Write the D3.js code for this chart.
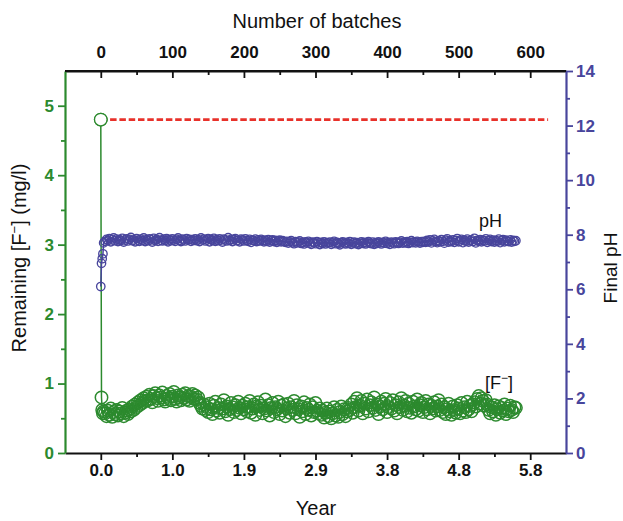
<!DOCTYPE html>
<html>
<head>
<meta charset="utf-8">
<script src="https://cdn.jsdelivr.net/npm/d3@7/dist/d3.min.js"></script>
<style>
  html, body { margin: 0; padding: 0; background: #fff; }
  svg { display: block; }
  text { font-family: "Liberation Sans", Arial, Helvetica, sans-serif; }
</style>
</head>
<body>
<svg id="chart" width="623" height="521"></svg>
<script>
// Top axis: batch numbers; bottom axis: elapsed years at the same batch positions
const batchTicks = [0, 100, 200, 300, 400, 500, 600];
const yearLabels = ["0.0", "1.0", "1.9", "2.9", "3.8", "4.8", "5.8"];
const batchMinorTicks = [50, 150, 250, 350, 450, 550];

const fTicks = [0, 1, 2, 3, 4, 5];
const fMinorTicks = [0.5, 1.5, 2.5, 3.5, 4.5];
const phTicks = [0, 2, 4, 6, 8, 10, 12, 14];
const phMinorTicks = [1, 3, 5, 7, 9, 11, 13];

// Feed fluoride concentration (mg/l) over the whole run
const feedF = 4.8;
const feedBatchRange = [0, 625];

// First batches, measured one by one
const startBatches = [0, 1, 2, 3, 4];
const startF = [4.80, 0.80, 0.62, 0.57, 0.60];
const startPH = [6.10, 6.95, 7.12, 7.30, 7.70];

// Remaining batches, every 2nd batch from batch 6 to 580
const runFirstBatch = 6;
const runStep = 2;
const runF = [
  0.57, 0.53, 0.61, 0.55, 0.64, 0.52, 0.59, 0.56, 0.62, 0.54,
  0.60, 0.57, 0.65, 0.53, 0.58, 0.61,
  0.56, 0.63, 0.60, 0.67, 0.62, 0.70, 0.66, 0.73, 0.69, 0.76,
  0.72, 0.79, 0.75,
  0.81, 0.76, 0.84, 0.78, 0.73, 0.82, 0.86, 0.79, 0.75, 0.83,
  0.80, 0.87, 0.77, 0.74, 0.82, 0.79, 0.85, 0.76, 0.81, 0.88,
  0.78, 0.74, 0.83, 0.80, 0.76, 0.84, 0.79, 0.86, 0.77, 0.82,
  0.75, 0.81, 0.85, 0.78,
  0.83, 0.77, 0.80, 0.72, 0.68, 0.64, 0.70, 0.62,
  0.66, 0.59, 0.71, 0.63, 0.56, 0.68, 0.74, 0.61, 0.65, 0.58,
  0.70, 0.64, 0.76, 0.60, 0.67, 0.55, 0.63, 0.72, 0.66, 0.59,
  0.69, 0.62, 0.74, 0.65, 0.57, 0.68, 0.63,
  0.71, 0.60, 0.66, 0.75, 0.58, 0.64, 0.70, 0.55, 0.67, 0.73,
  0.62, 0.68, 0.57, 0.64, 0.77, 0.61, 0.69, 0.54, 0.65, 0.72,
  0.59, 0.66, 0.63, 0.74, 0.56, 0.68, 0.61, 0.70, 0.53, 0.64,
  0.71, 0.58, 0.66, 0.62, 0.75, 0.57, 0.69, 0.63, 0.52, 0.67,
  0.60, 0.73, 0.56, 0.65, 0.62, 0.70, 0.54, 0.66, 0.59, 0.72,
  0.61, 0.57, 0.64,
  0.55, 0.61, 0.51, 0.58, 0.64, 0.53, 0.60, 0.50, 0.57, 0.66,
  0.54, 0.62, 0.52, 0.59, 0.67, 0.56, 0.63, 0.53, 0.60, 0.65,
  0.62, 0.70, 0.58, 0.74, 0.66, 0.79, 0.61, 0.68, 0.75, 0.57,
  0.71, 0.64, 0.77, 0.60, 0.69, 0.73, 0.65, 0.80, 0.62, 0.70,
  0.56, 0.67, 0.74, 0.63, 0.71, 0.78, 0.59, 0.66, 0.72, 0.64,
  0.76, 0.61, 0.69, 0.57, 0.73, 0.66, 0.79, 0.62, 0.68, 0.75,
  0.60, 0.71, 0.65, 0.58, 0.74, 0.67, 0.63, 0.77, 0.61, 0.69,
  0.72, 0.59, 0.66, 0.75, 0.63, 0.70, 0.57, 0.68, 0.64, 0.73,
  0.61, 0.67, 0.76, 0.62, 0.70,
  0.59, 0.66, 0.56, 0.63, 0.71, 0.60, 0.55, 0.67, 0.62, 0.58,
  0.69, 0.64, 0.57, 0.72, 0.61, 0.66, 0.59, 0.74, 0.63, 0.68,
  0.60, 0.70,
  0.73, 0.67, 0.78, 0.82, 0.71, 0.79, 0.75, 0.68, 0.76, 0.70,
  0.62, 0.57, 0.66, 0.60, 0.69, 0.55, 0.63, 0.67, 0.58, 0.65,
  0.61, 0.70, 0.56, 0.64, 0.60, 0.68, 0.62, 0.59, 0.66, 0.65
];
const runPH = [
  7.76, 7.83, 7.79, 7.86, 7.74, 7.81, 7.88, 7.78, 7.84, 7.75,
  7.82, 7.79, 7.87, 7.73, 7.80, 7.85, 7.77, 7.83, 7.90, 7.78,
  7.81, 7.74, 7.86, 7.80, 7.76, 7.84, 7.79, 7.88, 7.75, 7.82,
  7.78, 7.85, 7.81, 7.73, 7.87, 7.79, 7.83, 7.76, 7.89, 7.80,
  7.77, 7.84, 7.79, 7.86, 7.74, 7.82, 7.78, 7.85, 7.80, 7.76,
  7.83, 7.88, 7.79, 7.75, 7.84, 7.81, 7.77, 7.86, 7.80, 7.83,
  7.76, 7.82, 7.79,
  7.85, 7.78, 7.82, 7.75, 7.88, 7.80, 7.84, 7.77, 7.81, 7.86,
  7.74, 7.83, 7.79, 7.87, 7.76, 7.82, 7.78, 7.85, 7.80, 7.73,
  7.84, 7.81, 7.77, 7.89, 7.79, 7.83, 7.75, 7.82, 7.86, 7.78,
  7.80, 7.74, 7.84, 7.81, 7.77, 7.85, 7.79, 7.76, 7.83, 7.72,
  7.80, 7.78, 7.84, 7.75, 7.81, 7.77, 7.83, 7.79, 7.74, 7.80,
  7.76, 7.82, 7.73, 7.78, 7.81, 7.75, 7.79, 7.72, 7.77, 7.80,
  7.74, 7.78, 7.75,
  7.72, 7.76, 7.69, 7.74, 7.78, 7.71, 7.67, 7.75, 7.70, 7.73,
  7.77, 7.68, 7.72, 7.66, 7.74, 7.70, 7.76, 7.69, 7.65, 7.73,
  7.71, 7.67, 7.75, 7.70, 7.64, 7.72, 7.68, 7.74, 7.66, 7.71,
  7.69, 7.73, 7.65, 7.70, 7.76, 7.67, 7.72, 7.68, 7.63, 7.71,
  7.74, 7.69, 7.66, 7.72, 7.68, 7.75, 7.65, 7.70, 7.73, 7.67,
  7.71, 7.64, 7.69, 7.74, 7.68, 7.72, 7.66, 7.70, 7.75, 7.69,
  7.67, 7.73, 7.65, 7.71, 7.68, 7.74, 7.70, 7.66, 7.72, 7.69,
  7.76, 7.68, 7.71, 7.65, 7.73, 7.70, 7.67, 7.74, 7.71, 7.68,
  7.72, 7.77, 7.69, 7.73, 7.70, 7.75, 7.68, 7.72, 7.78, 7.71,
  7.74, 7.70, 7.76, 7.73, 7.69, 7.75, 7.72,
  7.76, 7.72, 7.79, 7.74, 7.81, 7.70, 7.77, 7.83, 7.75, 7.71,
  7.78, 7.74, 7.82, 7.76, 7.69, 7.80, 7.85, 7.73, 7.78, 7.75,
  7.81, 7.72, 7.79, 7.86, 7.74, 7.77, 7.83, 7.71, 7.80, 7.76,
  7.84, 7.73, 7.78, 7.81, 7.75, 7.87, 7.70, 7.79, 7.76, 7.82,
  7.74, 7.80, 7.77, 7.85, 7.72, 7.78, 7.83, 7.75, 7.80, 7.73,
  7.79, 7.76, 7.84, 7.71, 7.78, 7.82, 7.74, 7.80, 7.77, 7.75,
  7.81, 7.73, 7.79, 7.76, 7.78
];

const GREEN = "#2c8a2e";
const BLUE = "#48459c";
const RED = "#e8312a";

// Combine the measured batches into point records
const fPoints = startBatches.map((b, i) => ({ batch: b, v: startF[i] }))
  .concat(runF.map((v, i) => ({ batch: runFirstBatch + i * runStep, v })));
const phPoints = startBatches.map((b, i) => ({ batch: b, v: startPH[i] }))
  .concat(runPH.map((v, i) => ({ batch: runFirstBatch + i * runStep, v })));

const svg = d3.select("#chart");
const plotLeft = 65, plotRight = 566, plotTop = 71, plotBottom = 453;

const x = d3.scaleLinear().domain([-50, 650]).range([plotLeft, plotRight]);
const yF = d3.scaleLinear().domain([0, 5.5]).range([plotBottom, plotTop]);
const yPH = d3.scaleLinear().domain([0, 14]).range([plotBottom, plotTop]);

function styleAxis(g, color, fontSize) {
  g.select(".domain").attr("stroke", color).attr("stroke-width", 2.2);
  g.selectAll(".tick line").attr("stroke", color).attr("stroke-width", 1.8);
  g.selectAll(".tick text")
    .attr("fill", color)
    .attr("font-size", fontSize)
    .attr("font-weight", "bold")
    .attr("font-family", "'Liberation Sans', Arial, sans-serif");
}

// Bottom axis (years)
const gBottomMinor = svg.append("g").attr("transform", `translate(0,${plotBottom})`)
  .call(d3.axisBottom(x).tickValues(batchMinorTicks).tickSize(4).tickFormat(""));
gBottomMinor.select(".domain").remove();
gBottomMinor.selectAll(".tick line").attr("stroke", "#111").attr("stroke-width", 1.8);
const gBottom = svg.append("g").attr("transform", `translate(0,${plotBottom})`)
  .call(d3.axisBottom(x).tickValues(batchTicks).tickSize(7).tickSizeOuter(0).tickPadding(4)
    .tickFormat((d, i) => yearLabels[i]));
styleAxis(gBottom, "#111", 17);

// Top axis (batches), ticks pointing into the plot
const gTopMinor = svg.append("g").attr("transform", `translate(0,${plotTop})`)
  .call(d3.axisTop(x).tickValues(batchMinorTicks).tickSize(-4).tickFormat(""));
gTopMinor.select(".domain").remove();
gTopMinor.selectAll(".tick line").attr("stroke", "#111").attr("stroke-width", 1.8);
const gTop = svg.append("g").attr("transform", `translate(0,${plotTop})`)
  .call(d3.axisTop(x).tickValues(batchTicks).tickSize(-7).tickSizeOuter(0).tickPadding(13)
    .tickFormat(d3.format("d")));
styleAxis(gTop, "#111", 17);

// Left axis (remaining fluoride)
const gLeftMinor = svg.append("g").attr("transform", `translate(${plotLeft},0)`)
  .call(d3.axisLeft(yF).tickValues(fMinorTicks).tickSize(4).tickFormat(""));
gLeftMinor.select(".domain").remove();
gLeftMinor.selectAll(".tick line").attr("stroke", GREEN).attr("stroke-width", 1.8);
const gLeft = svg.append("g").attr("transform", `translate(${plotLeft},0)`)
  .call(d3.axisLeft(yF).tickValues(fTicks).tickSize(7).tickSizeOuter(0).tickPadding(4)
    .tickFormat(d3.format("d")));
styleAxis(gLeft, GREEN, 17);

// Right axis (final pH)
const gRightMinor = svg.append("g").attr("transform", `translate(${plotRight},0)`)
  .call(d3.axisRight(yPH).tickValues(phMinorTicks).tickSize(4).tickFormat(""));
gRightMinor.select(".domain").remove();
gRightMinor.selectAll(".tick line").attr("stroke", BLUE).attr("stroke-width", 1.8);
const gRight = svg.append("g").attr("transform", `translate(${plotRight},0)`)
  .call(d3.axisRight(yPH).tickValues(phTicks).tickSize(7).tickSizeOuter(0).tickPadding(3)
    .tickFormat(d3.format("d")));
styleAxis(gRight, BLUE, 17);

// Axis titles
svg.append("text").attr("x", 317).attr("y", 28).attr("text-anchor", "middle")
  .attr("font-size", 20).attr("fill", "#111").text("Number of batches");
svg.append("text").attr("x", 316).attr("y", 515).attr("text-anchor", "middle")
  .attr("font-size", 20).attr("fill", "#111").text("Year");

const leftTitle = svg.append("text")
  .attr("transform", "translate(26,258) rotate(-90)")
  .attr("text-anchor", "middle").attr("font-size", 20).attr("fill", "#111");
leftTitle.append("tspan").text("Remaining [F");
leftTitle.append("tspan").attr("baseline-shift", "super").attr("font-size", 13).text("\u2212");
leftTitle.append("tspan").text("] (mg/l)");

svg.append("text")
  .attr("transform", "translate(617,268) rotate(-90)")
  .attr("text-anchor", "middle").attr("font-size", 19).attr("fill", "#111")
  .text("Final pH");

// Feed concentration reference line
svg.append("line")
  .attr("x1", x(feedBatchRange[0])).attr("x2", x(feedBatchRange[1]))
  .attr("y1", yF(feedF)).attr("y2", yF(feedF))
  .attr("stroke", RED).attr("stroke-width", 2.8).attr("stroke-dasharray", "6.5,2.8");

// Remaining fluoride series: connecting line plus open circles
svg.append("path").datum(fPoints)
  .attr("fill", "none").attr("stroke", GREEN).attr("stroke-width", 1.5)
  .attr("d", d3.line().x(d => x(d.batch)).y(d => yF(d.v)));
svg.append("g").selectAll("circle").data(fPoints).join("circle")
  .attr("cx", d => x(d.batch)).attr("cy", d => yF(d.v)).attr("r", 6.2)
  .attr("fill", "none").attr("stroke", GREEN).attr("stroke-width", 1.5);
// the first (feed) point is drawn solid white so the dashed line starts at its edge
svg.append("circle")
  .attr("cx", x(fPoints[0].batch)).attr("cy", yF(fPoints[0].v)).attr("r", 6.3)
  .attr("fill", "#fff").attr("stroke", GREEN).attr("stroke-width", 1.3);

// Final pH series
svg.append("path").datum(phPoints)
  .attr("fill", "none").attr("stroke", BLUE).attr("stroke-width", 1.5)
  .attr("d", d3.line().x(d => x(d.batch)).y(d => yPH(d.v)));
svg.append("g").selectAll("circle").data(phPoints).join("circle")
  .attr("cx", d => x(d.batch)).attr("cy", d => yPH(d.v)).attr("r", 4.2)
  .attr("fill", "none").attr("stroke", BLUE).attr("stroke-width", 1.35);

// Series labels
svg.append("text").attr("x", 479).attr("y", 227).attr("font-size", 18).attr("fill", "#111").text("pH");
const fLabel = svg.append("text").attr("x", 485).attr("y", 389).attr("font-size", 18).attr("fill", "#111");
fLabel.append("tspan").text("[F");
fLabel.append("tspan").attr("baseline-shift", "super").attr("font-size", 12).text("\u2212");
fLabel.append("tspan").text("]");

// Top frame line joining the two vertical axes
svg.append("line").attr("x1", plotLeft).attr("x2", plotRight).attr("y1", plotTop).attr("y2", plotTop)
  .attr("stroke", "#111").attr("stroke-width", 2.2);
</script>
</body>
</html>
